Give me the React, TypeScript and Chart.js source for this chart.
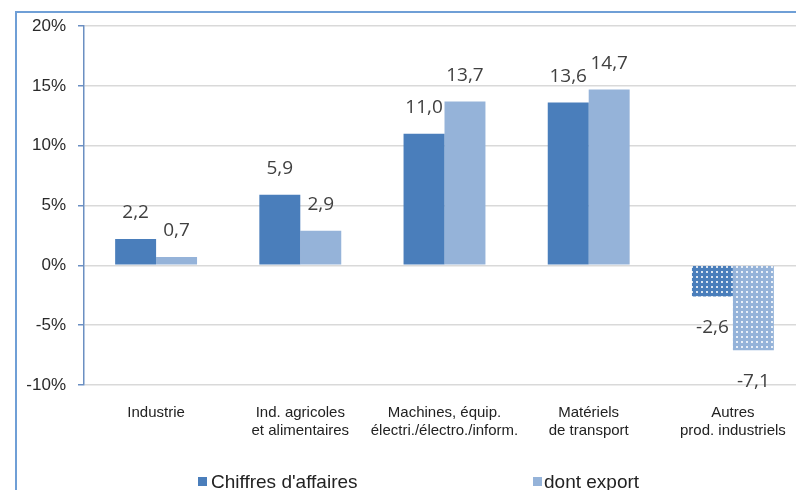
import React, { useEffect, useRef } from 'react';
import { Chart, registerables } from 'chart.js';

Chart.register(...registerables);

const categories: string[][] = [
  ['Industrie'],
  ['Ind. agricoles', 'et alimentaires'],
  ['Machines, équip.', 'électri./électro./inform.'],
  ['Matériels', 'de transport'],
  ['Autres', 'prod. industriels'],
];
const chiffresAffaires = [2.2, 5.9, 11.0, 13.6, -2.6];
const dontExport = [0.7, 2.9, 13.7, 14.7, -7.1];
const seriesNames = ["Chiffres d'affaires", 'dont export'];
const yTicks = [-10, -5, 0, 5, 10, 15, 20];

const DARK = '#4a7ebb';
const LIGHT = '#95b3d9';
const DOTTED_CATEGORY = 4;

function makePattern(base: string): CanvasPattern | string {
  const c = document.createElement('canvas');
  c.width = 5;
  c.height = 5;
  const g = c.getContext('2d');
  if (!g) return base;
  g.fillStyle = base;
  g.fillRect(0, 0, 5, 5);
  g.fillStyle = 'rgba(255,255,255,0.8)';
  g.fillRect(1, 1, 2, 2);
  const p = g.createPattern(c, 'repeat');
  return p || base;
}

const valueLabels = {
  id: 'valueLabels',
  afterDatasetsDraw(chart: any) {
    const ctx = chart.ctx;
    ctx.save();
    ctx.font = '19px "Open Sans", "Liberation Sans", Arial';
    ctx.fillStyle = '#404040';
    ctx.textAlign = 'center';
    ctx.textBaseline = 'middle';
    chart.data.datasets.forEach((ds: any, di: number) => {
      const meta = chart.getDatasetMeta(di);
      meta.data.forEach((el: any, i: number) => {
        const v = ds.data[i] as number;
        const txt = v.toFixed(1).replace('.', ',');
        const y = v >= 0 ? el.y - 26 : el.y + 31;
        ctx.fillText(txt, el.x, y);
      });
    });
    ctx.restore();
  },
};

export default function App() {
  const ref = useRef<HTMLCanvasElement | null>(null);

  useEffect(() => {
    document.body.style.overflow = 'hidden';
    const canvas = ref.current;
    if (!canvas) return;
    const darkColors = chiffresAffaires.map((_, i) => (i === DOTTED_CATEGORY ? makePattern(DARK) : DARK));
    const lightColors = dontExport.map((_, i) => (i === DOTTED_CATEGORY ? makePattern(LIGHT) : LIGHT));
    const axisBlue = '#6b8fc2';
    const chart = new Chart(canvas, {
      type: 'bar',
      data: {
        labels: categories,
        datasets: [
          {
            label: seriesNames[0],
            data: chiffresAffaires,
            backgroundColor: darkColors as any,
            borderWidth: 0,
            categoryPercentage: 0.568,
            barPercentage: 1,
          },
          {
            label: seriesNames[1],
            data: dontExport,
            backgroundColor: lightColors as any,
            borderWidth: 0,
            categoryPercentage: 0.568,
            barPercentage: 1,
          },
        ],
      },
      options: {
        responsive: false,
        animation: false,
        devicePixelRatio: 1,
        layout: { padding: { top: 26, left: 0, right: 3, bottom: 0 } },
        plugins: {
          legend: { display: false },
          tooltip: { enabled: false },
          title: { display: false },
        },
        scales: {
          x: {
            grid: { display: false },
            border: { display: false },
            ticks: {
              color: '#222222',
              font: { family: '"Liberation Sans", Arial', size: 15 },
              padding: 11,
              maxRotation: 0,
              autoSkip: false,
            },
            afterFit: (s: any) => {
              s.height = 85;
            },
          },
          y: {
            min: yTicks[0],
            max: yTicks[yTicks.length - 1],
            ticks: {
              stepSize: 5,
              color: '#2a2a2a',
              font: { family: '"Liberation Sans", Arial', size: 17 },
              padding: 12,
              callback: (v: any) => `${v}%`,
            },
            grid: {
              color: '#d9d9d9',
              lineWidth: 1.5,
              tickLength: 6,
              tickColor: axisBlue,
              tickWidth: 1.5,
            },
            border: { color: axisBlue, width: 1.5 },
            afterFit: (s: any) => {
              s.width = 84;
            },
          },
        },
      },
      plugins: [valueLabels],
    });
    return () => chart.destroy();
  }, []);

  const legendText: React.CSSProperties = {
    position: 'fixed',
    top: 471,
    fontFamily: '"Liberation Sans", Arial, sans-serif',
    fontSize: 19,
    lineHeight: '22px',
    color: '#222222',
    whiteSpace: 'nowrap',
  };
  const sq: React.CSSProperties = { position: 'fixed', top: 477, width: 9, height: 9 };

  return (
    <div>
      <div
        style={{
          position: 'fixed',
          left: 15,
          top: 11,
          width: 820,
          height: 520,
          border: '2px solid #6f9fd6',
          boxSizing: 'border-box',
        }}
      />
      <canvas
        ref={ref}
        width={808}
        height={470}
        style={{ position: 'fixed', left: 0, top: 0, width: 808, height: 470 }}
      />
      <div style={{ ...sq, left: 198, background: DARK }} />
      <div style={{ ...legendText, left: 211 }}>{seriesNames[0]}</div>
      <div style={{ ...sq, left: 533, background: LIGHT }} />
      <div style={{ ...legendText, left: 544 }}>{seriesNames[1]}</div>
    </div>
  );
}
